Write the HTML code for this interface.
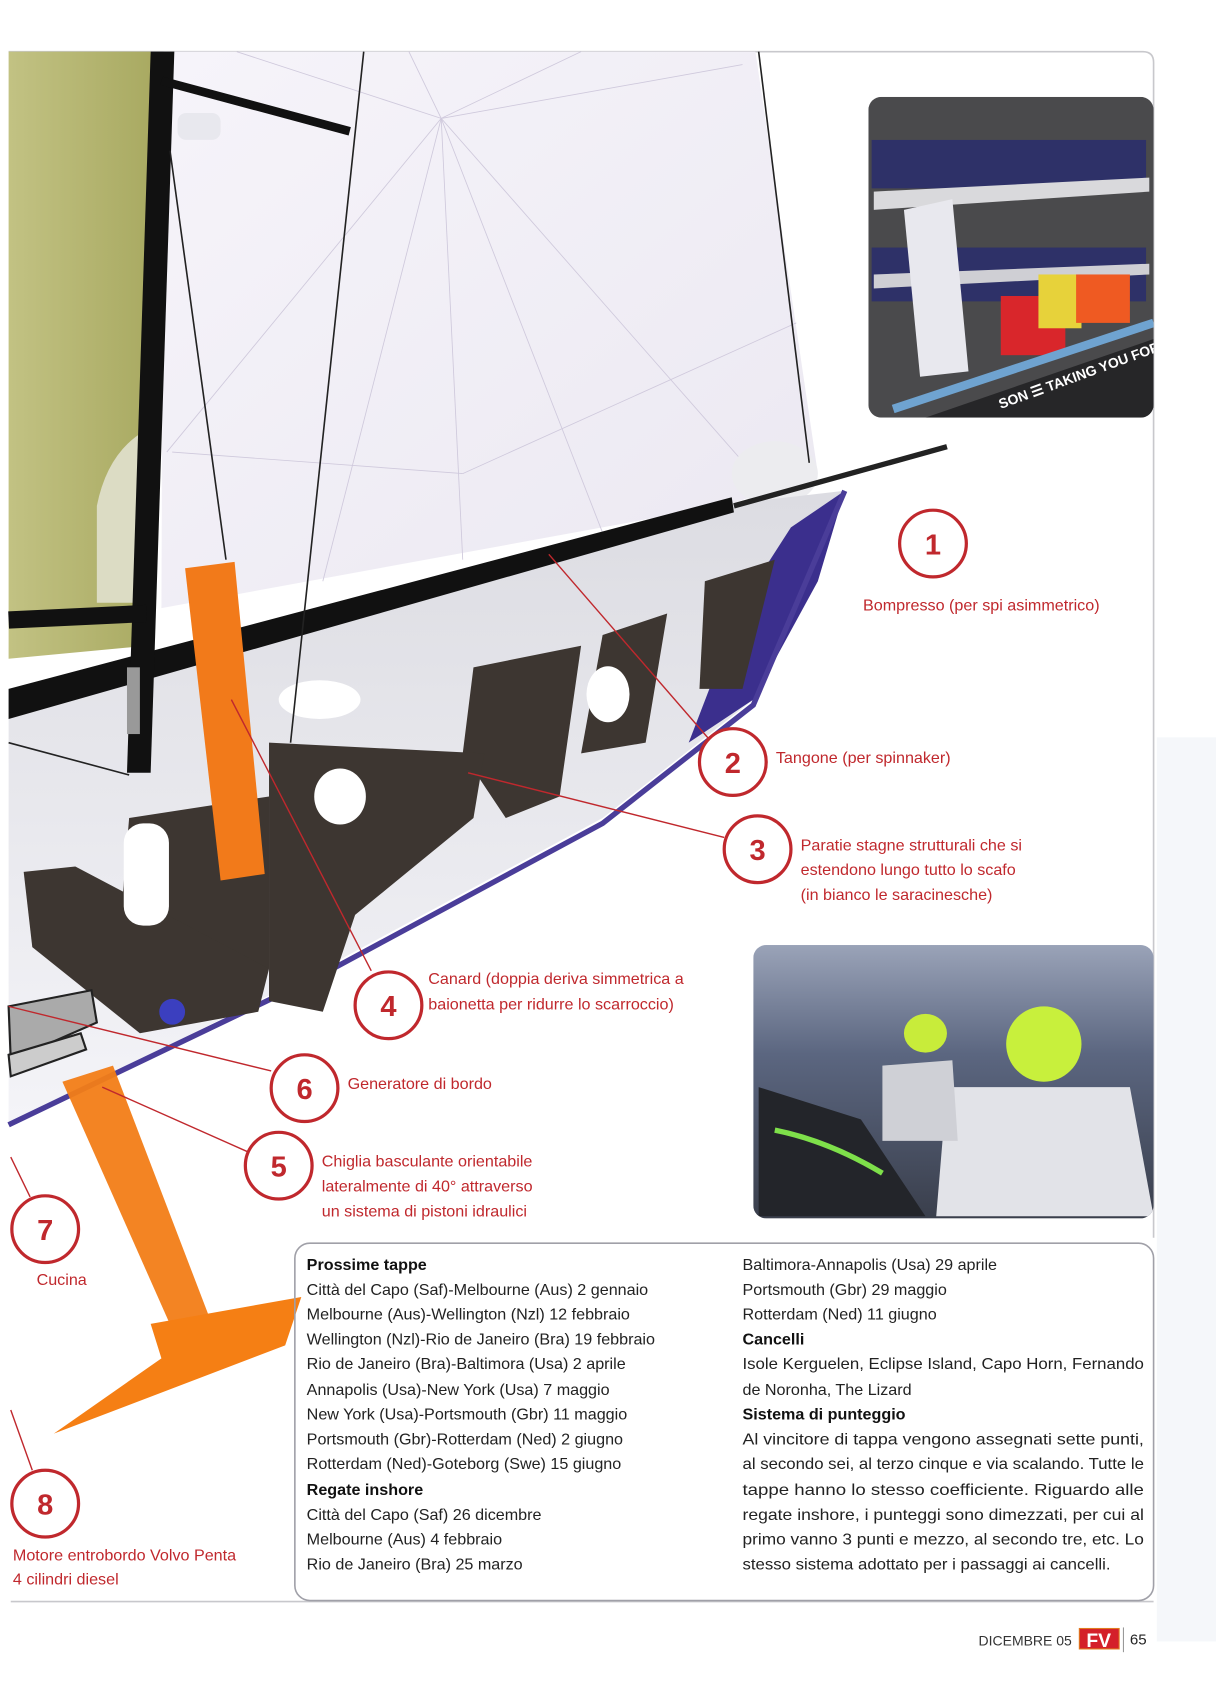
<!DOCTYPE html>
<html><head><meta charset="utf-8"><style>
html,body{margin:0;padding:0;background:#fff;}
svg{display:block;}
text{font-family:"Liberation Sans",sans-serif;}
.lb{fill:#c0282d;font-size:15px;}
.tx{fill:#222;font-size:15px;}
.hd{fill:#111;font-size:15px;font-weight:bold;}
.cn{fill:#c0282d;font-size:27px;font-weight:bold;text-anchor:middle;}
</style></head><body>
<svg width="1216" height="1692" viewBox="0 0 1130 1572" preserveAspectRatio="none" xmlns="http://www.w3.org/2000/svg">
<defs>
<linearGradient id="ol" x1="0" y1="0" x2="1" y2="0"><stop offset="0" stop-color="#c2c283"/><stop offset="1" stop-color="#a9aa62"/></linearGradient>
<linearGradient id="sl" x1="0" y1="0" x2="1" y2="1"><stop offset="0" stop-color="#f6f4fa"/><stop offset="1" stop-color="#ebe8f1"/></linearGradient>
<linearGradient id="hl" x1="0" y1="0" x2="0" y2="1"><stop offset="0" stop-color="#dcdce2"/><stop offset="1" stop-color="#f4f4f8"/></linearGradient>
<linearGradient id="p2" x1="0" y1="0" x2="0" y2="1"><stop offset="0" stop-color="#9aa3b8"/><stop offset="0.4" stop-color="#5b6680"/><stop offset="1" stop-color="#3a3f4c"/></linearGradient>
<clipPath id="c1"><rect x="807" y="90" width="265" height="298" rx="12"/></clipPath>
<clipPath id="c2"><rect x="700" y="878" width="372" height="254" rx="12"/></clipPath>
</defs>
<rect width="1130" height="1572" fill="#fff"/>
<rect x="1075" y="685" width="55" height="840" fill="#f5f7fa"/>
<path d="M8 48 H1062 Q1072 48 1072 58 V1150" fill="none" stroke="#c8c8cc" stroke-width="1.5"/>
<line x1="10" y1="1488" x2="1072" y2="1488" stroke="#c8c8cc" stroke-width="1.5"/>
<polygon points="8,48 140,48 136,600 8,612" fill="url(#ol)"/>
<path d="M90 560 V470 Q100 420 135 400 V560Z" fill="#dcdcc4"/>
<polygon points="152,48 702,48 760,440 680,468 150,565" fill="url(#sl)"/>
<g stroke="#cfc9dc" stroke-width="0.8">
<line x1="410" y1="110" x2="155" y2="420"/><line x1="410" y1="110" x2="300" y2="540"/><line x1="410" y1="110" x2="430" y2="520"/><line x1="410" y1="110" x2="560" y2="495"/><line x1="410" y1="110" x2="700" y2="440"/><line x1="410" y1="110" x2="690" y2="60"/><line x1="410" y1="110" x2="540" y2="48"/><line x1="410" y1="110" x2="380" y2="48"/><line x1="410" y1="110" x2="220" y2="48"/><line x1="430" y1="440" x2="160" y2="420"/><line x1="430" y1="440" x2="740" y2="300"/>
</g>
<ellipse cx="720" cy="440" rx="40" ry="30" fill="#ececef"/>
<polygon points="8,650 680,468 785,456 745,560 700,650 560,760 300,900 8,1045" fill="url(#hl)"/>
<polygon points="735,490 785,456 760,540 700,650 640,690 690,560" fill="#3b2f8d"/>
<path d="M8 1045 L300 905 L560 765 L700 655 L785 456" fill="none" stroke="#4a3d99" stroke-width="5"/>
<g fill="#3d3631">
<polygon points="655,540 720,520 690,640 650,640"/>
<polygon points="560,590 620,570 600,690 540,700"/>
<polygon points="440,620 540,600 520,740 470,760 430,700"/>
<polygon points="250,690 450,700 440,760 330,850 300,940 250,930"/>
<polygon points="120,760 250,740 250,900 160,930 110,880"/>
<polygon points="22,810 70,805 250,900 240,940 130,960 30,880"/>
</g>
<ellipse cx="297" cy="650" rx="38" ry="18" fill="#fff"/>
<ellipse cx="316" cy="740" rx="24" ry="26" fill="#fff"/>
<ellipse cx="565" cy="645" rx="20" ry="26" fill="#fff"/>
<rect x="115" y="765" width="42" height="95" rx="18" fill="#fff"/>
<circle cx="160" cy="940" r="12" fill="#3b3fbf"/>
<polygon points="8,640 680,462 682,476 8,668" fill="#111"/>
<line x1="682" y1="470" x2="880" y2="415" stroke="#222" stroke-width="5"/>
<polygon points="140,48 162,48 140,718 118,718" fill="#111"/>
<rect x="118" y="620" width="12" height="62" fill="#999"/>
<line x1="150" y1="75" x2="325" y2="122" stroke="#111" stroke-width="8"/>
<rect x="165" y="105" width="40" height="25" rx="8" fill="#e8e8ee"/>
<line x1="8" y1="576" x2="136" y2="570" stroke="#111" stroke-width="16"/>
<g stroke="#222" stroke-width="1.5"><line x1="158" y1="140" x2="210" y2="520"/><line x1="338" y1="48" x2="270" y2="690"/><line x1="705" y1="48" x2="752" y2="430"/><line x1="8" y1="690" x2="120" y2="720"/></g>
<polygon points="172,528 218,522 246,812 205,818" fill="#f27a1a"/>
<polygon points="58,1005 105,990 195,1225 160,1235" fill="#f27d17" opacity="0.95"/>
<polygon points="140,1230 280,1205 265,1250 50,1332 150,1262" fill="#f57f14"/>
<polygon points="8,935 85,920 90,950 10,985" fill="#aaa" stroke="#222" stroke-width="2"/>
<polygon points="8,980 75,960 80,975 10,1000" fill="#ccc" stroke="#222" stroke-width="2"/>
<g stroke="#c0282d" stroke-width="1.3" fill="none">
<line x1="510" y1="515" x2="660" y2="688"/><line x1="435" y1="718" x2="673" y2="778"/><line x1="215" y1="650" x2="345" y2="902"/><line x1="8" y1="935" x2="252" y2="995"/><line x1="95" y1="1010" x2="230" y2="1070"/><line x1="10" y1="1075" x2="28" y2="1112"/><line x1="10" y1="1310" x2="30" y2="1366"/>
</g>
<g fill="#fff" stroke="#c0282d" stroke-width="3">
<circle cx="867" cy="505" r="31"/><circle cx="681" cy="708" r="31"/><circle cx="704" cy="789" r="31"/><circle cx="361" cy="934" r="31"/><circle cx="283" cy="1011" r="31"/><circle cx="259" cy="1083" r="31"/><circle cx="42" cy="1142" r="31"/><circle cx="42" cy="1397" r="31"/>
</g>
<text class="cn" x="867" y="515">1</text><text class="cn" x="681" y="718">2</text><text class="cn" x="704" y="799">3</text><text class="cn" x="361" y="944">4</text><text class="cn" x="283" y="1021">6</text><text class="cn" x="259" y="1093">5</text><text class="cn" x="42" y="1152">7</text><text class="cn" x="42" y="1407">8</text>
<text class="lb" x="802" y="567">Bompresso (per spi asimmetrico)</text>
<text class="lb" x="721" y="709">Tangone (per spinnaker)</text>
<text class="lb" x="744" y="790">Paratie stagne strutturali che si</text>
<text class="lb" x="744" y="813">estendono lungo tutto lo scafo</text>
<text class="lb" x="744" y="836">(in bianco le saracinesche)</text>
<text class="lb" x="398" y="914">Canard (doppia deriva simmetrica a</text>
<text class="lb" x="398" y="938">baionetta per ridurre lo scarroccio)</text>
<text class="lb" x="323" y="1012">Generatore di bordo</text>
<text class="lb" x="299" y="1084">Chiglia basculante orientabile</text>
<text class="lb" x="299" y="1107">lateralmente di 40° attraverso</text>
<text class="lb" x="299" y="1130">un sistema di pistoni idraulici</text>
<text class="lb" x="34" y="1194">Cucina</text>
<text class="lb" x="12" y="1450">Motore entrobordo Volvo Penta</text>
<text class="lb" x="12" y="1472">4 cilindri diesel</text>
<g clip-path="url(#c1)">
<rect x="807" y="90" width="265" height="298" fill="#4a4a4c"/>
<rect x="810" y="130" width="255" height="45" fill="#2e3168"/>
<polygon points="812,178 1068,165 1068,178 812,195" fill="#d9d9dc"/>
<rect x="810" y="230" width="255" height="50" fill="#2e3168"/>
<polygon points="812,255 1068,245 1068,255 812,268" fill="#cfcfd4"/>
<polygon points="840,195 885,185 900,345 855,350" fill="#e8e8ee"/>
<rect x="930" y="275" width="60" height="55" fill="#d9262b"/>
<rect x="965" y="255" width="40" height="50" fill="#e7d23a"/>
<rect x="1000" y="255" width="50" height="45" fill="#ef5a22"/>
<line x1="830" y1="380" x2="1072" y2="300" stroke="#6fa3d0" stroke-width="8"/>
<polygon points="860,388 1072,315 1072,388" fill="#262628"/>
<text x="930" y="380" fill="#fff" font-size="13" font-weight="bold" transform="rotate(-20 930 380)">SON ☰  TAKING YOU FORWARD</text>
</g>
<g clip-path="url(#c2)">
<rect x="700" y="878" width="372" height="254" fill="url(#p2)"/>
<polygon points="705,1010 800,1040 860,1130 705,1130" fill="#23252a"/>
<path d="M720 1050 Q770 1060 820 1090" stroke="#7ee04a" stroke-width="5" fill="none"/>
<ellipse cx="860" cy="960" rx="20" ry="18" fill="#c8ec3a"/>
<ellipse cx="970" cy="970" rx="35" ry="35" fill="#c8f03c"/>
<polygon points="880,1010 1050,1010 1072,1130 870,1130" fill="#e2e3e8"/>
<polygon points="820,990 885,985 890,1060 820,1060" fill="#cfd0d6"/>
</g>
<rect x="274" y="1155" width="798" height="332" rx="14" fill="none" stroke="#a0a0a8" stroke-width="1.5"/>
<text class="hd" x="285" y="1180">Prossime tappe</text>
<text class="tx" x="285" y="1203">Città del Capo (Saf)-Melbourne (Aus) 2 gennaio</text>
<text class="tx" x="285" y="1226">Melbourne (Aus)-Wellington (Nzl) 12 febbraio</text>
<text class="tx" x="285" y="1249">Wellington (Nzl)-Rio de Janeiro (Bra) 19 febbraio</text>
<text class="tx" x="285" y="1272">Rio de Janeiro (Bra)-Baltimora (Usa) 2 aprile</text>
<text class="tx" x="285" y="1296">Annapolis (Usa)-New York (Usa) 7 maggio</text>
<text class="tx" x="285" y="1319">New York (Usa)-Portsmouth (Gbr) 11 maggio</text>
<text class="tx" x="285" y="1342">Portsmouth (Gbr)-Rotterdam (Ned) 2 giugno</text>
<text class="tx" x="285" y="1365">Rotterdam (Ned)-Goteborg (Swe) 15 giugno</text>
<text class="hd" x="285" y="1389">Regate inshore</text>
<text class="tx" x="285" y="1412">Città del Capo (Saf) 26 dicembre</text>
<text class="tx" x="285" y="1435">Melbourne (Aus) 4 febbraio</text>
<text class="tx" x="285" y="1458">Rio de Janeiro (Bra) 25 marzo</text>
<text class="tx" x="690" y="1180">Baltimora-Annapolis (Usa) 29 aprile</text>
<text class="tx" x="690" y="1203">Portsmouth (Gbr) 29 maggio</text>
<text class="tx" x="690" y="1226">Rotterdam (Ned) 11 giugno</text>
<text class="hd" x="690" y="1249">Cancelli</text>
<text class="tx" x="690" y="1272" textLength="373" lengthAdjust="spacingAndGlyphs">Isole Kerguelen, Eclipse Island, Capo Horn, Fernando</text>
<text class="tx" x="690" y="1296">de Noronha, The Lizard</text>
<text class="hd" x="690" y="1319">Sistema di punteggio</text>
<text class="tx" x="690" y="1342" textLength="373" lengthAdjust="spacingAndGlyphs">Al vincitore di tappa vengono assegnati sette punti,</text>
<text class="tx" x="690" y="1365" textLength="373" lengthAdjust="spacingAndGlyphs">al secondo sei, al terzo cinque e via scalando. Tutte le</text>
<text class="tx" x="690" y="1389" textLength="373" lengthAdjust="spacingAndGlyphs">tappe hanno lo stesso coefficiente. Riguardo alle</text>
<text class="tx" x="690" y="1412" textLength="373" lengthAdjust="spacingAndGlyphs">regate inshore, i punteggi sono dimezzati, per cui al</text>
<text class="tx" x="690" y="1435" textLength="373" lengthAdjust="spacingAndGlyphs">primo vanno 3 punti e mezzo, al secondo tre, etc. Lo</text>
<text class="tx" x="690" y="1458" textLength="342" lengthAdjust="spacingAndGlyphs">stesso sistema adottato per i passaggi ai cancelli.</text>
<text x="996" y="1529" fill="#333" font-size="13" text-anchor="end">DICEMBRE 05</text>
<rect x="1003" y="1513" width="37" height="19" fill="#d4202a" stroke="#e07a20" stroke-width="1"/>
<text x="1021" y="1530" fill="#fff" font-size="18" font-weight="bold" text-anchor="middle">FV</text>
<line x1="1044" y1="1512" x2="1044" y2="1535" stroke="#999"/>
<text x="1050" y="1528" fill="#222" font-size="14">65</text>
</svg>
</body></html>
